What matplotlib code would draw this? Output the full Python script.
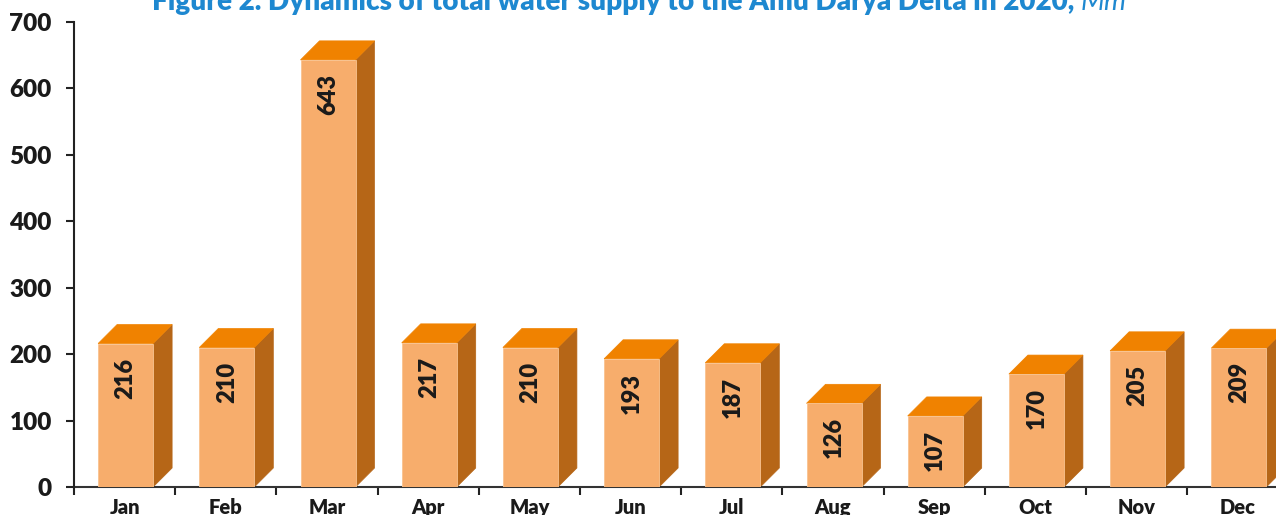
import matplotlib
matplotlib.use("Agg")
import matplotlib.pyplot as plt
from matplotlib.patches import Rectangle, Polygon

months = ["Jan", "Feb", "Mar", "Apr", "May", "Jun", "Jul", "Aug", "Sep", "Oct", "Nov", "Dec"]
values = [216, 210, 643, 217, 210, 193, 187, 126, 107, 170, 205, 209]
yticks = [0, 100, 200, 300, 400, 500, 600, 700]
title_main = "Figure 2. Dynamics of total water supply to the Amu Darya Delta in 2020, "
title_unit = "Mm³"

FONT = "Lato"
W, H = 1276, 515
fig = plt.figure(figsize=(W / 100, H / 100), dpi=100)
left_px, bottom_px, top_px = 74, 487, 22
cat_px = 101.2
ax = fig.add_axes([left_px / W, (H - bottom_px) / H, 12 * cat_px / W, (bottom_px - top_px) / H])

front_c = "#F7AD6C"
top_c = "#F08200"
side_c = "#B66617"

bw = 55 / cat_px
dx = 19 / cat_px
dy = 19 * 700 / (bottom_px - top_px)
lab_off = 14 * 700 / (bottom_px - top_px)

for i, v in enumerate(values):
    x0 = i - bw / 2 + 0.01
    x1 = x0 + bw
    ax.add_patch(Polygon([(x1, 0), (x1, v), (x1 + dx, v + dy), (x1 + dx, dy)], closed=True,
                         facecolor=side_c, edgecolor=side_c, lw=0.5, zorder=2))
    ax.add_patch(Polygon([(x0, v), (x1, v), (x1 + dx, v + dy), (x0 + dx, v + dy)], closed=True,
                         facecolor=top_c, edgecolor=top_c, lw=0.5, zorder=2))
    ax.add_patch(Rectangle((x0, 0), bw, v, facecolor=front_c, edgecolor="#F9C38F", lw=0.6, zorder=3))
    ax.text(i + 0.01, v - lab_off, str(v), rotation=90, ha="center", va="top",
            fontsize=17, fontweight="heavy", family=FONT, color="#1a1a1a", zorder=4)

ax.set_xlim(-0.5, 11.5)
ax.set_ylim(0, 700)
ax.set_yticks(yticks)
ax.set_yticklabels([str(t) for t in yticks], fontsize=17.5, fontweight="heavy", family=FONT, color="#1a1a1a")
ax.tick_params(axis="y", length=6, width=1.5, pad=10, color="#222222")
ax.set_xticks([i - 0.5 for i in range(13)])
ax.set_xticklabels([])
ax.tick_params(axis="x", which="major", length=6, width=1.5, color="#222222")
ax.set_xticks(range(12), minor=True)
ax.set_xticklabels(months, minor=True, fontsize=14.5, fontweight="heavy", family=FONT, color="#1a1a1a")
ax.tick_params(axis="x", which="minor", length=0, pad=8)

for s in ["top", "right"]:
    ax.spines[s].set_visible(False)
ax.spines["left"].set_linewidth(1.5)
ax.spines["left"].set_color("#222222")
ax.spines["bottom"].set_linewidth(1.5)
ax.spines["bottom"].set_color("#333333")
ax.spines["left"].set_zorder(5)

# title (partially cut at the top, as in the reference)
fig.canvas.draw()
r = fig.canvas.get_renderer()
tcol = "#1E88D0"
ty = 1 - 10 / H
fs = 17
t1 = fig.text(0, ty, title_main, fontsize=fs, fontweight="heavy", family=FONT, color=tcol, va="baseline")
t2 = fig.text(0, ty, title_unit, fontsize=fs, fontstyle="italic", family=FONT, color=tcol, va="baseline")
w1 = t1.get_window_extent(r).width
w2 = t2.get_window_extent(r).width
scale = 982 / (w1 + w2)
t1.set_fontsize(fs * scale)
t2.set_fontsize(fs * scale)
w1 = t1.get_window_extent(r).width
w2 = t2.get_window_extent(r).width
x_start = 644 - (w1 + w2) / 2
t1.set_x(x_start / W)
t2.set_x((x_start + w1) / W)

fig.savefig("out.png", dpi=100)
